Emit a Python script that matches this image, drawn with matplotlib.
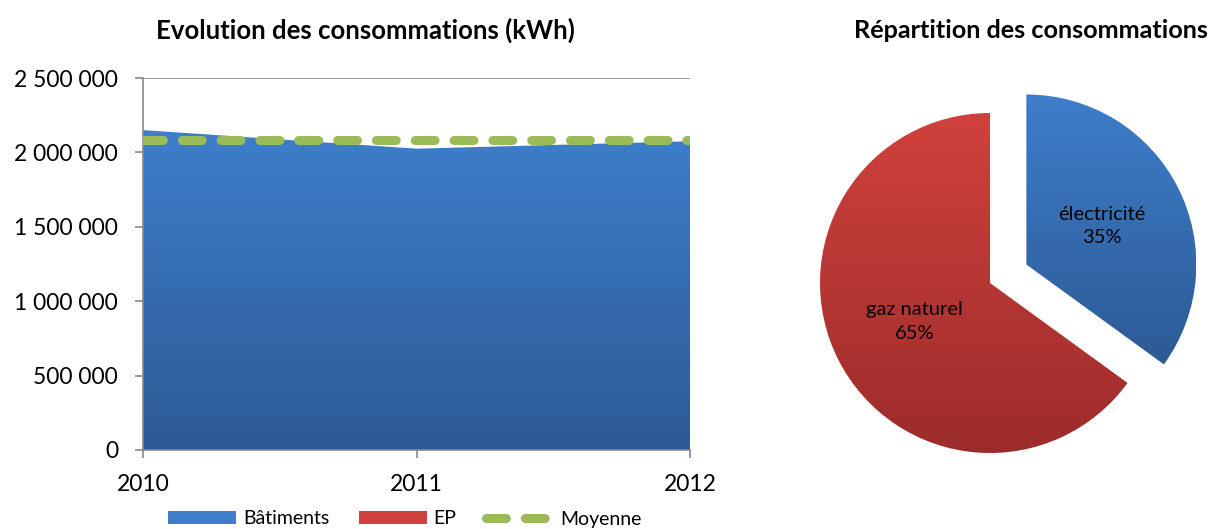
import numpy as np
import matplotlib.pyplot as plt
from matplotlib.patches import Patch
from matplotlib.lines import Line2D
from matplotlib.colors import LinearSegmentedColormap
from matplotlib.ticker import FuncFormatter

plt.rcParams['font.family'] = ['Lato', 'DejaVu Sans']

# données
annees = [2010, 2011, 2012]
batiments = [2150000, 2025000, 2075000]
ep = [0, 0, 0]
moyenne = [2083333, 2083333, 2083333]

energies = ['électricité', 'gaz naturel']
parts = [35, 65]

BLEU = ('#2c5a95', '#3e7ecb')
ROUGE = ('#9c2c2b', '#d0413d')
VERT = '#9bbb59'

fig = plt.figure(figsize=(12.28, 5.29), dpi=100)
W, H = 1228, 529


def degrade(ax, path, trans, couleurs, x0, x1, y0, y1, z):
    # remplissage en dégradé vertical, découpé selon la forme
    cmap = LinearSegmentedColormap.from_list('g', couleurs)
    grad = np.linspace(0, 1, 256).reshape(-1, 1)
    im = ax.imshow(grad, cmap=cmap, origin='lower', aspect='auto',
                   extent=[x0, x1, y0, y1], zorder=z)
    im.set_clip_path(path, trans)


# --- évolution des consommations ---
ax = fig.add_axes([143 / W, 1 - 450 / H, (690 - 143) / W, (450 - 78) / H])
total = np.array(batiments) + np.array(ep)
aire = ax.fill_between(annees, 0, batiments, facecolor='none', edgecolor='none', zorder=2)
degrade(ax, aire.get_paths()[0], ax.transData, BLEU, 2010, 2012, 0, max(batiments), 2)
ax.fill_between(annees, batiments, total, color=ROUGE[1], lw=0, zorder=2)
ax.plot(annees, moyenne, color=VERT, lw=6.5, dashes=(2.2, 2.1),
        dash_capstyle='round', zorder=3)

ax.set_xlim(2010, 2012)
ax.set_ylim(0, 2500000)
ax.set_xticks(annees)
ax.set_yticks(np.arange(0, 2500001, 500000))
ax.yaxis.set_major_formatter(FuncFormatter(lambda v, p: f"{v:,.0f}".replace(",", " ")))
ax.grid(axis='y', color='#878787', lw=1.2, zorder=0)
ax.set_axisbelow(True)
for s in ['top', 'right']:
    ax.spines[s].set_visible(False)
for s in ['left', 'bottom']:
    ax.spines[s].set_color('#878787')
    ax.spines[s].set_linewidth(1.2)
ax.tick_params(colors='#878787', labelcolor='black', labelsize=16.5, length=6, width=1.2)
ax.tick_params(axis='y', pad=12)
ax.tick_params(axis='x', pad=11)
fig.text(365 / W, 1 - 30 / H, 'Evolution des consommations (kWh)', fontsize=18.5,
         fontweight='bold', ha='center', va='center')

poignees = [Patch(facecolor=BLEU[1], label='Bâtiments'),
            Patch(facecolor=ROUGE[1], label='EP'),
            Line2D([0], [0], color=VERT, lw=6.5, dashes=(2.2, 2.1),
                   dash_capstyle='round', label='Moyenne')]
fig.legend(handles=poignees, loc='center', bbox_to_anchor=(405 / W, 1 - 519 / H),
           ncol=3, frameon=False, fontsize=14, handlelength=3.5, handleheight=0.6,
           columnspacing=1.5, handletextpad=0.35, borderpad=0)

# --- répartition des consommations ---
R = 170
cx, cy = 990, 283
lim = 1.3
axp = fig.add_axes([(cx - lim * R) / W, 1 - (cy + lim * R) / H, 2 * lim * R / W, 2 * lim * R / H])
parts_plot, _ = axp.pie(parts, startangle=90, counterclock=False,
                        explode=[0.24, 0], radius=1)
for w, c in zip(parts_plot, [BLEU, ROUGE]):
    w.set_facecolor('none')
    w.set_edgecolor('none')
    bb = w.get_path().get_extents()
    degrade(axp, w.get_path(), axp.transData, c, bb.x0, bb.x1, bb.y0, bb.y1, 2)

for w, nom, p in zip(parts_plot, energies, parts):
    ang = np.deg2rad((w.theta1 + w.theta2) / 2)
    cxw, cyw = w.center
    axp.text(cxw + 0.5 * np.cos(ang), cyw + 0.5 * np.sin(ang), f"{nom}\n{p}%",
             ha='center', va='center', fontsize=14.5, linespacing=1.45, zorder=5)

axp.set_xlim(-lim, lim)
axp.set_ylim(-lim, lim)
axp.set_aspect('equal')
axp.axis('off')
fig.text(1031 / W, 1 - 30 / H, 'Répartition des consommations', fontsize=18.2,
         fontweight='bold', ha='center', va='center')

fig.savefig('out.png', dpi=100)
